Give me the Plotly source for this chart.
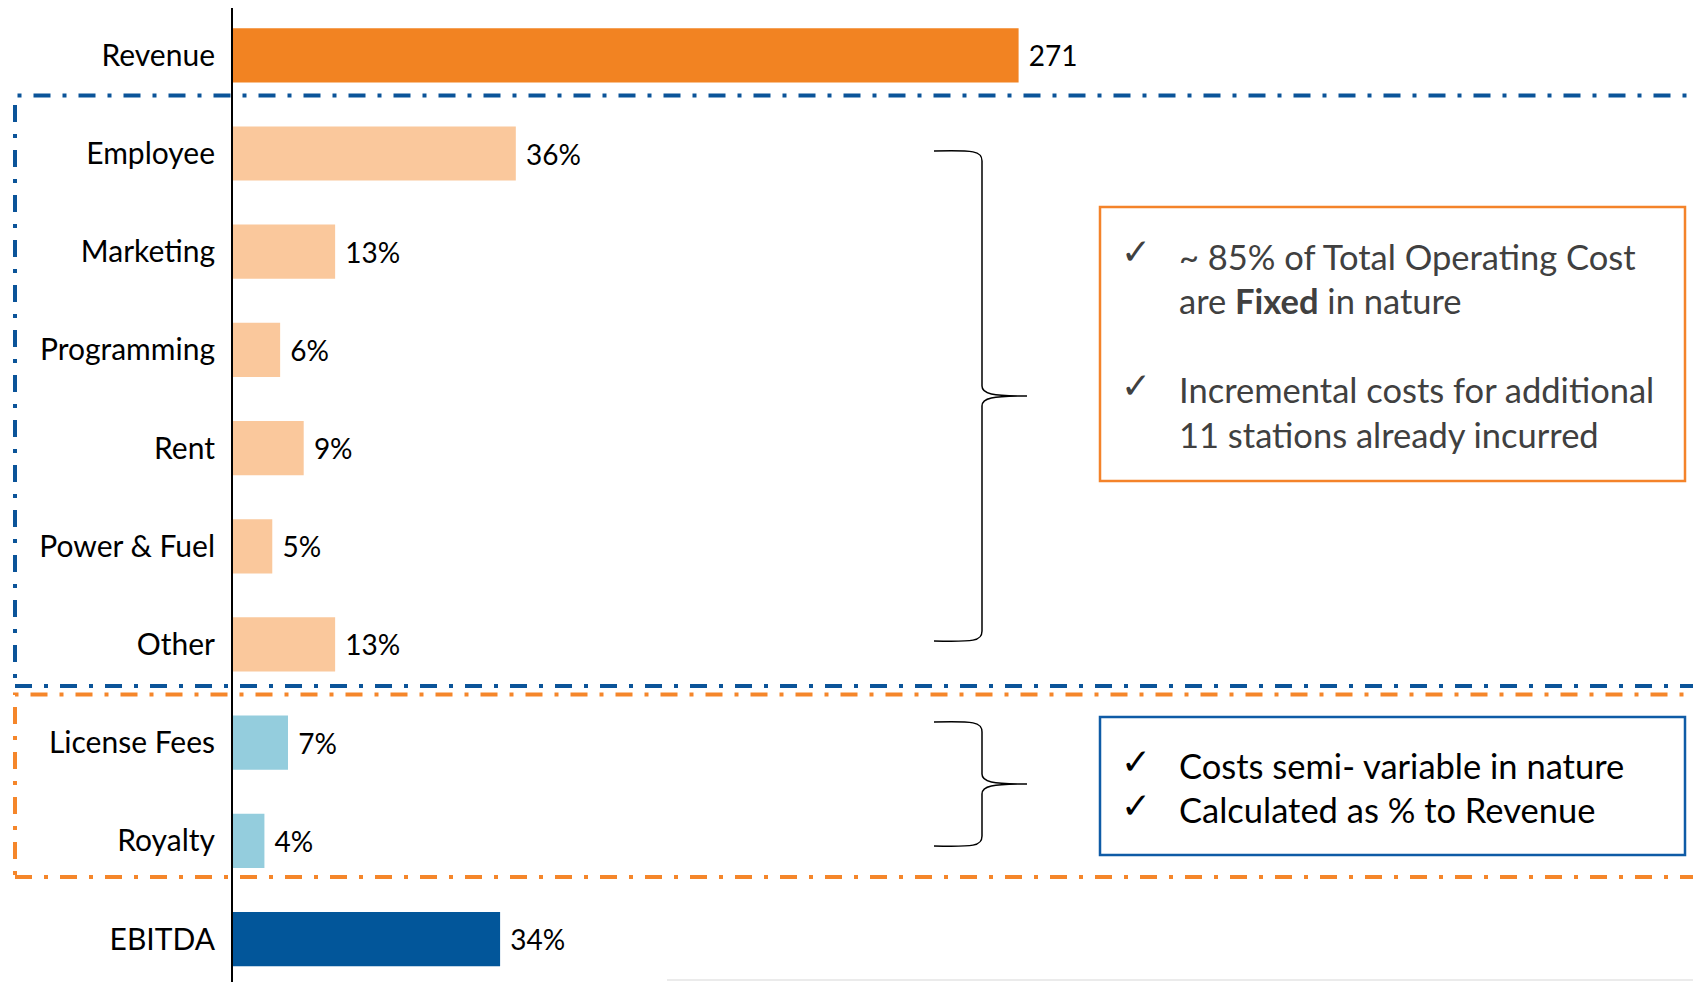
import plotly.graph_objects as go

# ---------------- data ----------------
categories = ["Revenue", "Employee", "Marketing", "Programming", "Rent",
              "Power & Fuel", "Other", "License Fees", "Royalty", "EBITDA"]
share_of_revenue = [100, 36, 13, 6, 9, 5, 13, 7, 4, 34]   # bar lengths (% of revenue)
value_labels = ["271", "36%", "13%", "6%", "9%", "5%", "13%", "7%", "4%", "34%"]
bar_colors = ["#F28322", "#FAC89C", "#FAC89C", "#FAC89C", "#FAC89C",
              "#FAC89C", "#FAC89C", "#94CDDD", "#94CDDD", "#02569A"]

fixed_notes = [["~ 85% of Total Operating Cost", "are <b>Fixed</b> in nature"],
               ["Incremental costs for additional", "11 stations already incurred"]]
variable_notes = ["Costs semi- variable in nature", "Calculated as % to Revenue"]

# ---------------- geometry helpers (page pixel coords -> paper) ----------------
W, H = 1701, 982
OFF = 8                      # page body margin
L, T, R, B = 225, 0, 0, 0
PW, PH = W - L - R, H - T - B


def px(x):
    return (x - OFF - L) / PW


def py(y):
    return (H - B - (y - OFF)) / PH


FONT = "Lato, 'Open Sans', sans-serif"
BLUE = "#0B5499"
ORANGE = "#F5862A"
DASH = "17px,12px,4px,12px"

fig = go.Figure()
fig.add_trace(go.Bar(
    y=categories, x=share_of_revenue, orientation="h",
    marker=dict(color=bar_colors, line=dict(width=0)),
    text=["\u00a0" + t for t in value_labels], textposition="outside",
    textfont=dict(family=FONT, size=28, color="#000000"),
    cliponaxis=False, hoverinfo="skip",
))

shapes = []
# dash-dot group boxes
shapes.append(dict(type="rect", xref="paper", yref="paper",
                   x0=px(15), x1=px(1740), y0=py(686), y1=py(95.5),
                   line=dict(color=BLUE, width=4, dash=DASH)))
shapes.append(dict(type="rect", xref="paper", yref="paper",
                   x0=px(15), x1=px(1740), y0=py(877), y1=py(694.5),
                   line=dict(color=ORANGE, width=4, dash=DASH)))


def brace(x_end, x_spine, x_tip, y_top, y_mid, y_bot):
    def P(x, y):
        return f"{px(x):.5f},{py(y):.5f}"
    r = 10
    d = (f"M {P(x_end, y_top)} C {P(x_spine - 8, y_top - 1)} {P(x_spine, y_top)} {P(x_spine, y_top + r)} "
         f"L {P(x_spine, y_mid - r)} C {P(x_spine, y_mid - 2)} {P(x_spine + 10, y_mid)} {P(x_tip, y_mid)} "
         f"M {P(x_tip, y_mid)} C {P(x_spine + 10, y_mid)} {P(x_spine, y_mid + 2)} {P(x_spine, y_mid + r)} "
         f"L {P(x_spine, y_bot - r)} C {P(x_spine, y_bot)} {P(x_spine - 8, y_bot + 1)} {P(x_end, y_bot)}")
    return dict(type="path", xref="paper", yref="paper", path=d,
                line=dict(color="#000000", width=1.5))


shapes.append(brace(934, 982, 1027, 151, 396, 641))
shapes.append(brace(934, 982, 1027, 722, 784, 846))

# note boxes
shapes.append(dict(type="rect", xref="paper", yref="paper",
                   x0=px(1100), x1=px(1685), y0=py(481), y1=py(207),
                   line=dict(color="#F4832A", width=2.5)))
shapes.append(dict(type="rect", xref="paper", yref="paper",
                   x0=px(1100), x1=px(1685), y0=py(855), y1=py(717),
                   line=dict(color="#0F5BA6", width=2.5)))
# faint slide edge line at bottom
shapes.append(dict(type="line", xref="paper", yref="paper",
                   x0=px(667), x1=px(1720), y0=py(980), y1=py(980),
                   line=dict(color="#EBEBEB", width=2)))

annotations = []
GRAY = "#404040"
TXT = 34.5
fixed_y = [[256, 300.5], [389.5, 434]]
for lines, ys in zip(fixed_notes, fixed_y):
    annotations.append(dict(xref="paper", yref="paper", x=px(1119), y=py(ys[0] - 4),
                            xanchor="left", yanchor="middle", showarrow=False, text="✓",
                            font=dict(family="DejaVu Sans", size=36, color=GRAY)))
    for line, yy in zip(lines, ys):
        annotations.append(dict(xref="paper", yref="paper", x=px(1177), y=py(yy),
                                xanchor="left", yanchor="middle", showarrow=False, text=line,
                                font=dict(family=FONT, size=TXT, color=GRAY)))
var_y = [765, 809]
for line, yy in zip(variable_notes, var_y):
    annotations.append(dict(xref="paper", yref="paper", x=px(1119), y=py(yy - 4),
                            xanchor="left", yanchor="middle", showarrow=False, text="<b>✓</b>",
                            font=dict(family="DejaVu Sans", size=36, color="#000000")))
    annotations.append(dict(xref="paper", yref="paper", x=px(1177), y=py(yy),
                            xanchor="left", yanchor="middle", showarrow=False, text=line,
                            font=dict(family=FONT, size=TXT, color="#000000")))

fig.update_layout(
    width=W, height=H,
    margin=dict(l=L, r=R, t=T, b=B, pad=0),
    paper_bgcolor="white", plot_bgcolor="white",
    showlegend=False, bargap=0.448,
    shapes=shapes, annotations=annotations,
    xaxis=dict(range=[0, 100 * PW / 785.6], showgrid=False, zeroline=False,
               showticklabels=False, showline=False, fixedrange=True),
    yaxis=dict(range=[9.519, -0.482], showgrid=False, zeroline=False,
               showline=True, linecolor="#000000", linewidth=2,
               ticks="", ticklabelstandoff=10,
               tickfont=dict(family=FONT, size=30, color="#000000"), fixedrange=True),
)

fig.write_html("out.html", config={"displayModeBar": False})
